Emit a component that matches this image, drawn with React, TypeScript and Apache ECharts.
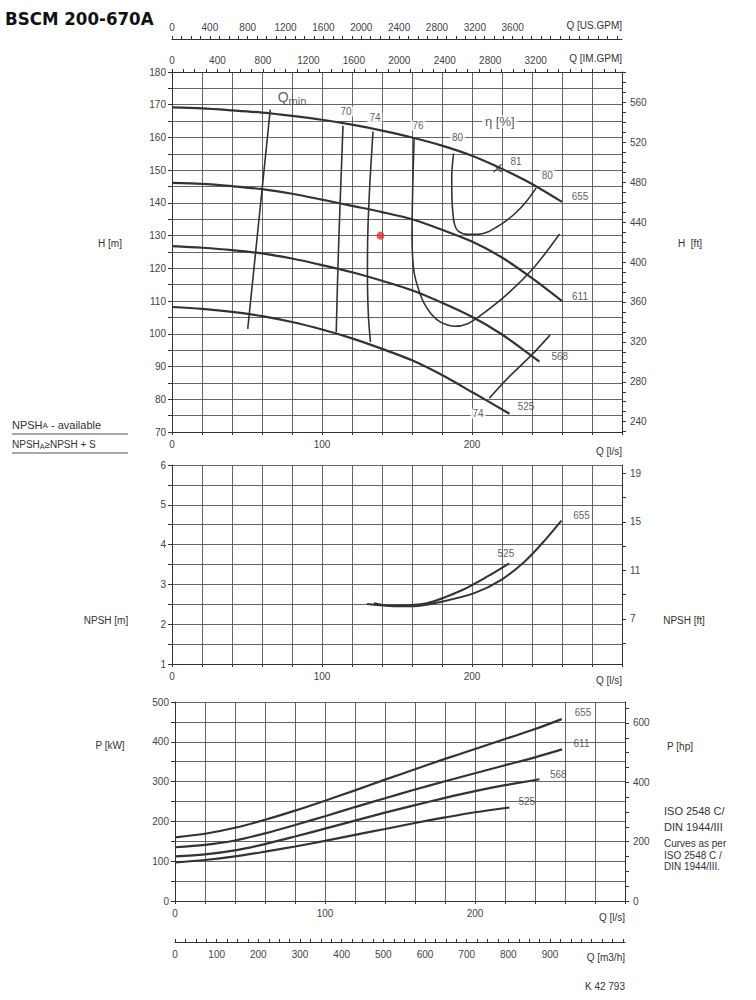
import React, { useEffect, useRef } from "react";
import * as echarts from "echarts";

// unit conversions for the secondary scales
const M_TO_FT = 3.28084;
const LS_TO_USGPM = 15.8503;
const LS_TO_IMGPM = 13.1982;
const LS_TO_M3H = 3.6;
const KW_TO_HP = 1.34102;

const Q_MAX = 300;
const flowLabels = [0, 100, 200];
const usGpmLabels = [0, 400, 800, 1200, 1600, 2000, 2400, 2800, 3200, 3600];
const imGpmLabels = [0, 400, 800, 1200, 1600, 2000, 2400, 2800, 3200];
const m3hLabels = [0, 100, 200, 300, 400, 500, 600, 700, 800, 900];
const headFtLabels = [240, 280, 320, 360, 400, 440, 480, 520, 560];
const npshFtLabels = [7, 11, 15, 19];
const npshFtTicks = [5, 7, 9, 11, 13, 15, 17, 19];
const powerHpLabels = [0, 200, 400, 600];

const range = (a: number, b: number, s: number) => {
  const r: number[] = [];
  for (let v = a; v <= b + 1e-9; v += s) r.push(v);
  return r;
};

// H-Q curves [Q l/s, H m]
const head655 = [[0, 169.2], [20, 168.9], [40, 168.3], [60, 167.6], [80, 166.6], [100, 165.4], [120, 163.9], [140, 162.1], [160, 160], [180, 157.5], [200, 154.4], [220, 150.4], [240, 145.8], [260, 140.3]];
const head611 = [[0, 146.1], [20, 145.8], [40, 145.1], [60, 144.2], [80, 142.8], [100, 141], [120, 139.1], [140, 137.2], [160, 135], [180, 131.8], [200, 128.2], [220, 123.3], [240, 117], [260, 110]];
const head568 = [[0, 126.8], [20, 126.3], [40, 125.6], [60, 124.6], [80, 123], [100, 121], [120, 118.8], [140, 116.2], [160, 113.3], [180, 109.5], [200, 105.2], [220, 99.8], [240, 93.2], [245, 91.5]];
const head525 = [[0, 108.2], [20, 107.6], [40, 106.7], [60, 105.4], [80, 103.6], [100, 101.3], [120, 98.6], [140, 95.4], [160, 91.9], [180, 87.4], [200, 82.2], [225, 75.6]];

// efficiency / Qmin lines
const effQmin = [[65.5, 168.5], [50.5, 101.5]];
const eff70 = [[114, 163.6], [112.5, 145], [111.3, 130], [110.3, 115], [109.5, 100.5]];
const eff74 = [[134, 161.8], [131.8, 145], [130.5, 130], [130.3, 117], [131, 105], [132.3, 97.5]];
const eff74b = [[211.5, 80.3], [225, 87], [239.5, 93.4], [252, 99.6]];
const eff76 = [[161.4, 159.7], [160.5, 145], [160, 130], [160.8, 121], [162.5, 116.4], [168.1, 109.3], [177, 104.2], [188.2, 102.3], [197.1, 103.1], [206, 105.7], [223.9, 112.3], [241.7, 120.5], [258.4, 130.5]];
const eff80 = [[187.7, 155.1], [186.5, 148], [186.6, 142], [187.1, 137.8], [188.3, 133.6], [191, 131.3], [197, 130.4], [204, 130.4], [210, 131], [216, 132.5], [222, 134.3], [228.3, 136.6], [236, 140.3], [242.8, 144.6]];
const bestPoint81 = [[217, 150.6]];
const dutyPoint = [[139, 130]];

// NPSH curves [Q l/s, NPSH m]
const npsh655 = [[134.6, 2.53], [145, 2.46], [161, 2.45], [179, 2.56], [201.5, 2.78], [219, 3.1], [235, 3.57], [248.4, 4.1], [259.6, 4.6]];
const npsh525 = [[130, 2.51], [145, 2.47], [170, 2.53], [192.4, 2.84], [210.3, 3.2], [224.8, 3.53]];

// power curves [Q l/s, P kW]
const pow655 = [[0, 160], [20, 169], [40, 184], [60, 204], [80, 227], [100, 252], [120, 278], [140, 305], [160, 331], [180, 357], [200, 382], [220, 407], [240, 432], [257.8, 457]];
const pow611 = [[0, 135], [20, 141], [40, 152], [60, 170], [80, 191], [100, 213], [120, 236], [140, 258], [160, 280], [180, 301], [200, 321], [220, 341], [240, 361], [258, 381]];
const pow568 = [[0, 112], [20, 117], [40, 127], [60, 143], [80, 162], [100, 182], [120, 202], [140, 222], [160, 241], [180, 259], [200, 276], [220, 291], [243, 306]];
const pow525 = [[0, 97], [20, 103], [40, 112], [60, 124], [80, 137], [100, 151], [120, 166], [140, 181], [160, 196], [180, 210], [200, 223], [223, 235]];

// curve annotations [text, Q, value]
const headNotes: [string, number, number][] = [["655", 272, 142], ["611", 272, 111.5], ["568", 258.5, 93], ["525", 236, 77.7]];
const effNotes: [string, number, number][] = [["70", 116, 167.9], ["74", 135.3, 166.1], ["76", 164, 163.6], ["80", 190.4, 160], ["81", 229.4, 152.6], ["80", 250.2, 148.5], ["74", 204, 75.6]];
const etaNote: [string, number, number][] = [["η [%]", 218.5, 164.8]];
const qminNote: [string, number, number][] = [["{q|Q}{m|min}", 80, 172.5]];
const npshNotes: [string, number, number][] = [["655", 273, 4.74], ["525", 222.6, 3.78]];
const powNotes: [string, number, number][] = [["655", 272, 474], ["611", 271, 395], ["568", 255.5, 318], ["525", 234.5, 249]];

const FONT = "Liberation Sans, Arial, sans-serif";
const INK = "#333";
const GRID = "#555";

export default function App() {
  const ref = useRef<HTMLDivElement>(null);
  useEffect(() => {
    document.body.style.margin = "0";
    const chart = echarts.init(ref.current!, null, { renderer: "svg" });
    const lbl = { fontFamily: FONT, fontSize: 10, color: "#444" };
    const axLine = { show: true, onZero: false, lineStyle: { color: INK, width: 1 } };
    const split = { show: true, lineStyle: { color: GRID, width: 0.9 } };
    const flowAxis = (gridIndex: number) => ({
      type: "value", gridIndex, min: 0, max: Q_MAX, interval: 20, position: "bottom",
      axisLine: axLine, axisTick: { show: true, length: 3, lineStyle: { color: INK } },
      axisLabel: { ...lbl, margin: 7, formatter: (v: number) => (flowLabels.includes(v) ? String(v) : "") },
      splitLine: split,
    });
    const convAxis = (gridIndex: number, pos: string, factor: number, labels: number[], ticks: number[], offset = 0, inside = false) => ({
      type: "value", gridIndex, position: pos, offset, min: 0, max: Q_MAX * factor,
      axisLine: axLine,
      axisTick: { show: true, inside, length: 3, customValues: ticks, lineStyle: { color: INK } },
      axisLabel: { ...lbl, margin: 7, customValues: labels, formatter: (v: number) => String(v) },
      splitLine: { show: false },
    });
    const line = (data: number[][], xi: number, yi: number, width = 2) => ({
      type: "line", data, xAxisIndex: xi, yAxisIndex: yi, smooth: 0.3,
      showSymbol: false, symbol: "none",
      silent: true, lineStyle: { color: INK, width }, z: 5,
    });
    const notes = (items: [string, number, number][], xi: number, yi: number, extra: any = {}) => ({
      type: "scatter", xAxisIndex: xi, yAxisIndex: yi, symbolSize: 1, silent: true, z: 8,
      itemStyle: { color: "rgba(0,0,0,0)" },
      data: items.map(([t, q, v]) => ({ name: t, value: [q, v] })),
      label: { show: true, position: "inside", formatter: "{b}", fontFamily: FONT, fontSize: 10, color: INK, ...extra },
    });
    const txt = (text: string, x: number, y: number, o: any = {}) => ({
      type: "text", x, y, silent: true,
      style: { text, fill: INK, fontSize: 10, fontFamily: FONT, textAlign: "left", textVerticalAlign: "middle", align: "left", verticalAlign: "middle", ...o },
    });
    const right = { textAlign: "right", align: "right" };
    const center = { textAlign: "center", align: "center" };

    chart.setOption({
      animation: false,
      backgroundColor: "#fff",
      grid: [
        { left: 172, top: 72, width: 450, height: 360 },
        { left: 172, top: 465, width: 450, height: 199 },
        { left: 175, top: 702, width: 450, height: 199 },
      ],
      xAxis: [
        flowAxis(0),
        convAxis(0, "top", LS_TO_IMGPM, imGpmLabels, range(0, 3900, 100)),
        convAxis(0, "top", LS_TO_USGPM, usGpmLabels, range(0, 4700, 100), 33),
        flowAxis(1),
        flowAxis(2),
        convAxis(2, "bottom", LS_TO_M3H, m3hLabels, range(0, 1075, 25), 41, true),
      ],
      yAxis: [
        {
          type: "value", gridIndex: 0, min: 70, max: 180, interval: 5, position: "left",
          axisLine: axLine, axisTick: { show: true, length: 4, lineStyle: { color: INK } },
          axisLabel: { ...lbl, margin: 6, formatter: (v: number) => (v % 10 === 0 ? String(v) : "") },
          splitLine: split,
        },
        {
          type: "value", gridIndex: 0, position: "right", min: 70 * M_TO_FT, max: 180 * M_TO_FT,
          axisLine: axLine,
          axisTick: { show: true, length: 4, customValues: range(230, 590, 10), lineStyle: { color: INK } },
          axisLabel: { ...lbl, margin: 8, customValues: headFtLabels, formatter: (v: number) => String(v) },
          splitLine: { show: false },
        },
        {
          type: "value", gridIndex: 1, min: 1, max: 6, interval: 0.5, position: "left",
          axisLine: axLine, axisTick: { show: true, length: 4, lineStyle: { color: INK } },
          axisLabel: { ...lbl, margin: 6, formatter: (v: number) => (Number.isInteger(v) ? String(v) : "") },
          splitLine: split,
        },
        {
          type: "value", gridIndex: 1, position: "right", min: 1 * M_TO_FT, max: 6 * M_TO_FT,
          axisLine: axLine,
          axisTick: { show: true, length: 4, customValues: npshFtTicks, lineStyle: { color: INK } },
          axisLabel: { ...lbl, margin: 8, customValues: npshFtLabels, formatter: (v: number) => String(v) },
          splitLine: { show: false },
        },
        {
          type: "value", gridIndex: 2, min: 0, max: 500, interval: 50, position: "left",
          axisLine: axLine, axisTick: { show: true, length: 4, lineStyle: { color: INK } },
          axisLabel: { ...lbl, margin: 6, formatter: (v: number) => (v % 100 === 0 ? String(v) : "") },
          splitLine: split,
        },
        {
          type: "value", gridIndex: 2, position: "right", min: 0, max: 500 * KW_TO_HP,
          axisLine: axLine,
          axisTick: { show: true, length: 4, customValues: range(0, 650, 50), lineStyle: { color: INK } },
          axisLabel: { ...lbl, margin: 8, customValues: powerHpLabels, formatter: (v: number) => String(v) },
          splitLine: { show: false },
        },
      ],
      series: [
        line(head655, 0, 0, 2.2),
        line(head611, 0, 0, 2.2),
        line(head568, 0, 0, 2.2),
        line(head525, 0, 0, 2.2),
        line(effQmin, 0, 0, 1.6),
        line(eff70, 0, 0, 1.6),
        line(eff74, 0, 0, 1.6),
        line(eff74b, 0, 0, 1.6),
        line(eff76, 0, 0, 1.6),
        line(eff80, 0, 0, 1.6),
        {
          type: "scatter", xAxisIndex: 0, yAxisIndex: 0, data: bestPoint81, silent: true, z: 6,
          symbol: "path://M0 0L10 10M10 0L0 10", symbolSize: 8,
          itemStyle: { color: "rgba(0,0,0,0)", borderColor: INK, borderWidth: 1.3 },
        },
        {
          type: "scatter", xAxisIndex: 0, yAxisIndex: 0, data: dutyPoint, silent: true, z: 9,
          symbol: "circle", symbolSize: 8, itemStyle: { color: "#e8302c" },
        },
        notes(headNotes, 0, 0),
        notes(effNotes, 0, 0, { backgroundColor: "#fff", padding: [0, 2] }),
        notes(etaNote, 0, 0, { backgroundColor: "#fff", padding: [0, 3], fontSize: 13 }),
        notes(qminNote, 0, 0, {
          rich: {
            q: { fontFamily: FONT, fontSize: 14, color: INK },
            m: { fontFamily: FONT, fontSize: 11, color: INK, padding: [9, 0, 0, 0] },
          },
        }),
        line(npsh655, 3, 2, 2),
        line(npsh525, 3, 2, 2),
        notes(npshNotes, 3, 2),
        line(pow655, 4, 4, 2.2),
        line(pow611, 4, 4, 2.2),
        line(pow568, 4, 4, 2.2),
        line(pow525, 4, 4, 2.2),
        notes(powNotes, 4, 4),
      ],
      graphic: [
        txt("BSCM 200-670A", 5, 18, { fontSize: 18.5, fontWeight: "bold", fontFamily: "DejaVu Sans Condensed, DejaVu Sans, sans-serif", fill: "#111" }),
        txt("Q [US.GPM]", 622, 25, right),
        txt("Q [IM.GPM]", 622, 58, right),
        txt("H [m]", 110, 243, center),
        txt("H  [ft]", 690, 243, center),
        txt("Q [l/s]", 622, 451, right),
        txt("Q [l/s]", 622, 680, right),
        txt("Q [l/s]", 625, 917, right),
        txt("Q [m3/h]", 625, 957, right),
        txt("K 42 793", 625, 986, right),
        txt("NPSH [m]", 106, 620, center),
        txt("NPSH [ft]", 684, 620, center),
        txt("P [kW]", 110, 745, center),
        txt("P [hp]", 680, 746, center),
        txt("{a|NPSH}{s|A}{a| - available}", 12, 425, {
          rich: { a: { fontSize: 11, fontFamily: FONT, fill: INK }, s: { fontSize: 8, fontFamily: FONT, fill: INK } },
        }),
        txt("{a|NPSH}{s|A}{a|≥NPSH + S}", 12, 444, {
          rich: { a: { fontSize: 10, fontFamily: FONT, fill: INK }, s: { fontSize: 7, fontFamily: FONT, fill: INK, padding: [4, 0, 0, 0] } },
        }),
        { type: "line", silent: true, shape: { x1: 12, y1: 434, x2: 128, y2: 434 }, style: { stroke: "#555", lineWidth: 1 } },
        { type: "line", silent: true, shape: { x1: 12, y1: 453, x2: 128, y2: 453 }, style: { stroke: "#555", lineWidth: 1 } },
        txt("ISO 2548 C/", 664, 811, { fontSize: 11 }),
        txt("DIN 1944/III", 664, 827, { fontSize: 11 }),
        txt("Curves as per", 664, 843, { fontSize: 10 }),
        txt("ISO 2548 C /", 664, 855, { fontSize: 10 }),
        txt("DIN 1944/III.", 664, 866, { fontSize: 10 }),
      ],
    });
    return () => chart.dispose();
  }, []);
  return <div ref={ref} style={{ width: 756, height: 1000 }} />;
}
